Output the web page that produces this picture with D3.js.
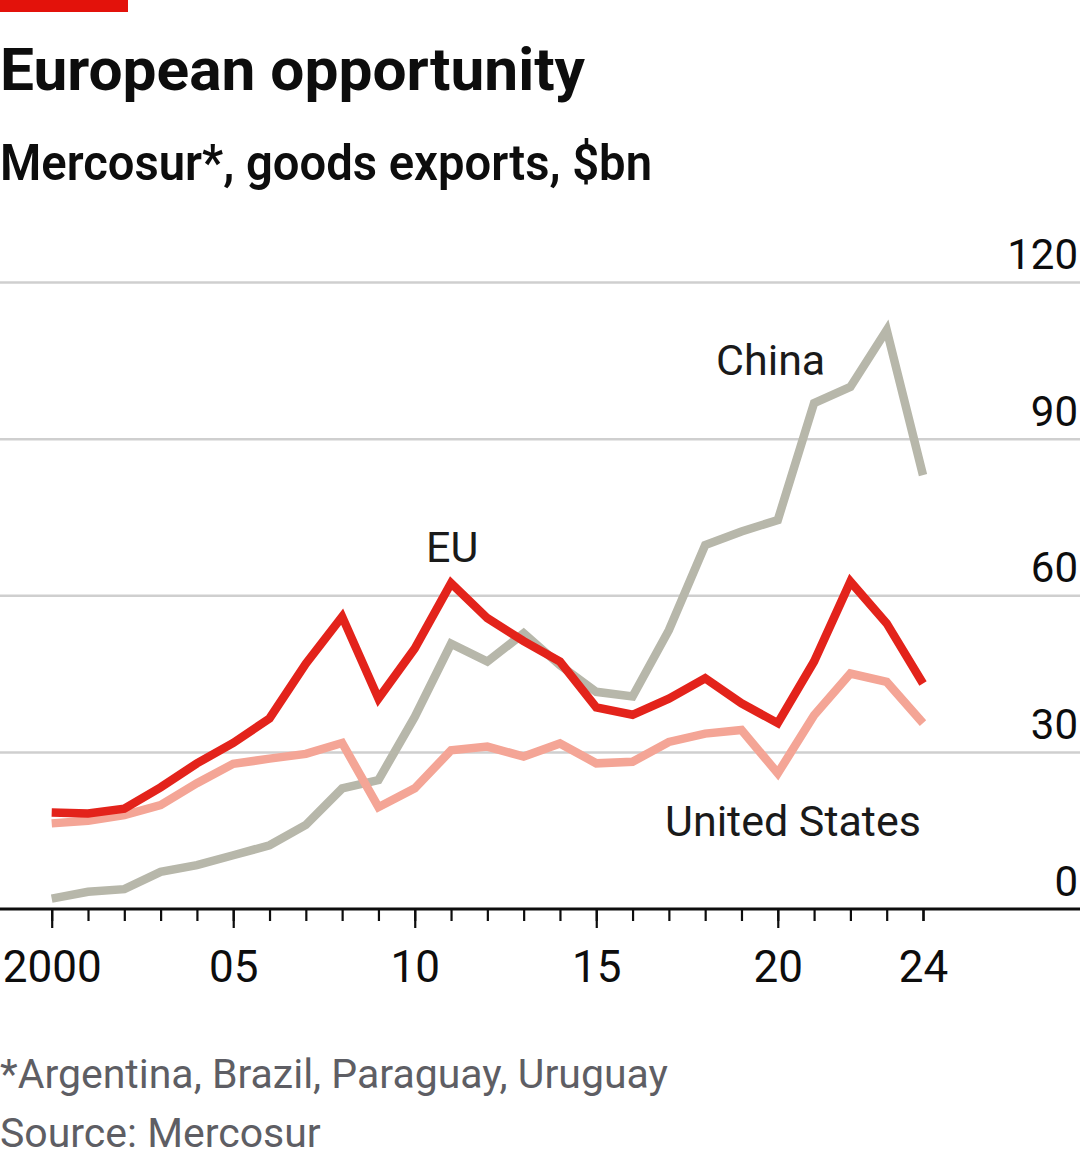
<!DOCTYPE html>
<html>
<head>
<meta charset="utf-8">
<script src="https://cdn.jsdelivr.net/npm/d3@7"></script>
<style>
  html, body { margin: 0; padding: 0; background: #fff; }
  svg { display: block; font-family: Roboto, "Noto Sans", sans-serif; }
</style>
</head>
<body>
<div id="chart"></div>
<script>
// Data (Mercosur goods exports, $bn)
const years = d3.range(2000, 2025);
const euValues = [18.5, 18.3, 19.2, 23.3, 27.9, 31.8, 36.5, 47.0, 56.0, 40.3, 49.9, 62.4, 55.7,
  51.3, 47.4, 38.6, 37.2, 40.3, 44.2, 39.4, 35.6, 47.4, 62.7, 54.7, 43.2];
const chinaValues = [2.0, 3.3, 3.8, 7.1, 8.4, 10.3, 12.2, 16.1, 23.1, 24.7, 36.8, 50.8, 47.4,
  52.8, 46.7, 41.6, 40.7, 53.4, 69.7, 72.3, 74.5, 96.9, 100.0, 110.9, 83.1];
const usValues = [16.4, 16.9, 18.0, 19.9, 24.1, 27.8, 28.8, 29.7, 31.8, 19.5, 23.1, 30.4, 31.1,
  29.2, 31.7, 27.9, 28.2, 32.0, 33.6, 34.3, 26.0, 37.1, 45.1, 43.5, 35.6];
const yTicks = [0, 30, 60, 90, 120];
const xMajorTicks = [2000, 2005, 2010, 2015, 2020, 2024];
const xTickLabels = ["2000", "05", "10", "15", "20", "24"];

const width = 1080, height = 1163;

const svg = d3.select("#chart")
  .append("svg")
  .attr("width", width)
  .attr("height", height);

// Scales
const x = d3.scaleLinear().domain([2000, 2024]).range([51.7, 923]);
const y = d3.scaleLinear().domain([0, 120]).range([909, 282.5]);

// Red tag at top left
svg.append("rect")
  .attr("x", 0).attr("y", 0)
  .attr("width", 128).attr("height", 12)
  .attr("fill", "#e3120b");

// Titles
svg.append("text")
  .attr("x", 0).attr("y", 90)
  .attr("font-size", 60)
  .attr("font-weight", 700)
  .attr("fill", "#0d0d0d")
  .attr("textLength", 585)
  .attr("lengthAdjust", "spacingAndGlyphs")
  .text("European opportunity");

svg.append("text")
  .attr("x", 0).attr("y", 180)
  .attr("font-size", 50)
  .attr("font-weight", 600)
  .attr("fill", "#0d0d0d")
  .attr("textLength", 652)
  .attr("lengthAdjust", "spacingAndGlyphs")
  .text("Mercosur*, goods exports, $bn");

// Gridlines (skip zero, which is the axis line)
svg.append("g")
  .selectAll("line")
  .data(yTicks.filter(d => d > 0))
  .join("line")
  .attr("x1", 0).attr("x2", width)
  .attr("y1", d => y(d)).attr("y2", d => y(d))
  .attr("stroke", "#cfcfcf")
  .attr("stroke-width", 2.5);

// Y labels on the right, sitting above their gridline
const yAxis = d3.axisRight(y)
  .tickValues(yTicks)
  .tickSize(0)
  .tickPadding(0);

svg.append("g")
  .attr("transform", `translate(${width - 2},0)`)
  .call(yAxis)
  .call(g => g.select(".domain").remove())
  .call(g => g.selectAll("text")
    .attr("text-anchor", "end")
    .attr("dy", "-0.33em")
    .attr("font-size", 42)
    .attr("font-family", "Roboto, sans-serif")
    .attr("fill", "#0d0d0d"));

// Lines
const line = d3.line()
  .x((d, i) => x(years[i]))
  .y(d => y(d));

const series = [
  { name: "China", values: chinaValues, color: "#b7b7aa" },
  { name: "United States", values: usValues, color: "#f4a596" },
  { name: "EU", values: euValues, color: "#e3231b" }
];

svg.append("g")
  .selectAll("path")
  .data(series)
  .join("path")
  .attr("d", d => line(d.values))
  .attr("fill", "none")
  .attr("stroke", d => d.color)
  .attr("stroke-width", 8.5)
  .attr("stroke-linejoin", "miter")
  .attr("stroke-linecap", "butt");

// X axis: minor ticks every year, major ticks with labels
const minorAxis = d3.axisBottom(x)
  .tickValues(years)
  .tickSize(12)
  .tickFormat("");

svg.append("g")
  .attr("transform", `translate(0,${y(0)})`)
  .call(minorAxis)
  .call(g => g.select(".domain").remove())
  .call(g => g.selectAll("line").attr("stroke", "#0d0d0d").attr("stroke-width", 2.2));

const majorAxis = d3.axisBottom(x)
  .tickValues(xMajorTicks)
  .tickSize(19)
  .tickPadding(23)
  .tickFormat((d, i) => xTickLabels[i]);

svg.append("g")
  .attr("transform", `translate(0,${y(0)})`)
  .call(majorAxis)
  .call(g => g.select(".domain").remove())
  .call(g => g.selectAll("line")
    .attr("stroke", "#0d0d0d")
    .attr("stroke-width", 2.2)
    .attr("y2", d => d === 2024 ? 12 : 19))
  .call(g => g.selectAll("text")
    .attr("font-size", 44)
    .attr("font-family", "Roboto, sans-serif")
    .attr("fill", "#0d0d0d"));

// Axis baseline across the full width
svg.append("line")
  .attr("x1", 0).attr("x2", width)
  .attr("y1", y(0)).attr("y2", y(0))
  .attr("stroke", "#0d0d0d")
  .attr("stroke-width", 2.8);

// Series labels
const labels = [
  { text: "EU", x: 426, y: 562 },
  { text: "China", x: 716, y: 375 },
  { text: "United States", x: 665, y: 836 }
];

svg.append("g")
  .selectAll("text")
  .data(labels)
  .join("text")
  .attr("x", d => d.x)
  .attr("y", d => d.y)
  .attr("font-size", 43)
  .attr("fill", "#1a1a1a")
  .text(d => d.text);

// Footnotes
svg.append("text")
  .attr("x", 0).attr("y", 1088)
  .attr("font-size", 41)
  .attr("fill", "#5e5e64")
  .text("*Argentina, Brazil, Paraguay, Uruguay");

svg.append("text")
  .attr("x", 0).attr("y", 1147)
  .attr("font-size", 41)
  .attr("fill", "#5e5e64")
  .text("Source: Mercosur");
</script>
</body>
</html>
